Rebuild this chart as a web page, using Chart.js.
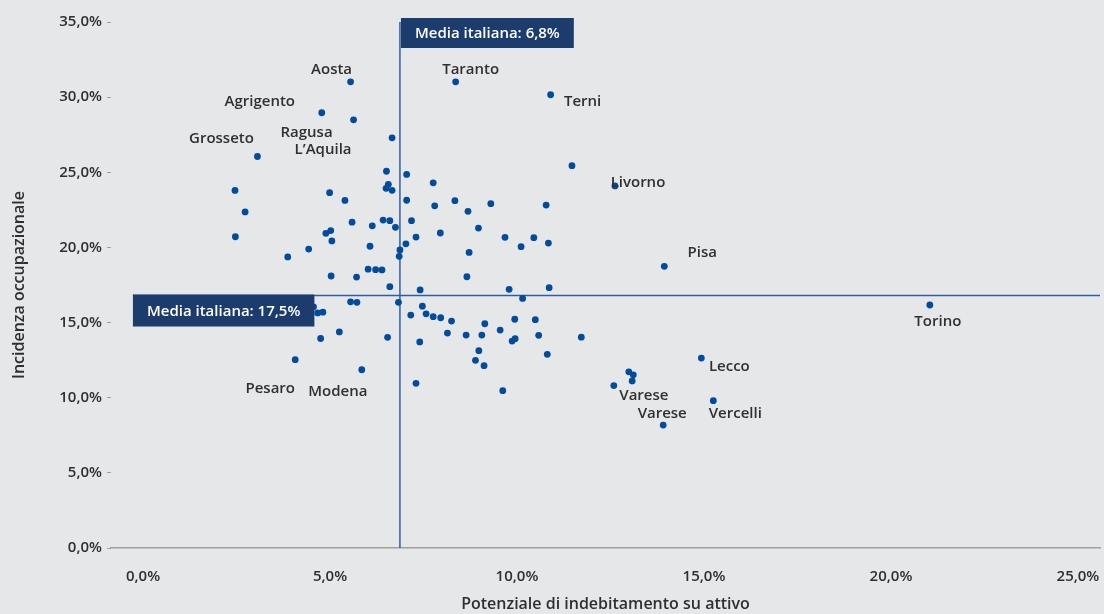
<!DOCTYPE html>
<html lang="it">
<head>
<meta charset="utf-8">
<title>Incidenza occupazionale e potenziale di indebitamento</title>
<script src="https://cdn.jsdelivr.net/npm/chart.js@4/dist/chart.umd.min.js"></script>
<style>
  html, body { margin: 0; padding: 0; background: #e6e7e9; }
  #chart { display: block; }
</style>
</head>
<body>
<canvas id="chart" width="1104" height="614"></canvas>
<script>
// Province con etichetta -------------------------------------------------------
const namedCities = ["Aosta", "Agrigento", "Ragusa", "L’Aquila", "Grosseto", "Taranto", "Terni",
  "Livorno", "Pisa", "Torino", "Lecco", "Vercelli", "Varese", "Varese", "Pesaro", "Modena"];
const namedX = [5.55, 4.78, 5.63, 6.66, 3.06, 8.36, 10.90, 12.62, 13.94, 21.04, 14.93, 15.25, 12.59, 13.91, 4.07, 5.85];
const namedY = [31.02, 28.96, 28.49, 27.29, 26.05, 31.02, 30.16, 24.09, 18.74, 16.17, 12.64, 9.80, 10.81, 8.18, 12.53, 11.86];

// Altre province ----------------------------------------------------------------
const otherX = [6.51, 7.05, 7.76, 11.47, 6.56, 6.50, 6.66, 2.46, 4.99, 5.40, 7.05, 7.80, 8.34, 9.30, 10.78,
  2.73, 8.69, 6.42, 6.60, 7.18, 5.59, 6.13, 6.75, 8.97, 7.95, 2.47, 4.89, 5.02, 5.05, 7.30,
  9.68, 10.45, 10.84, 7.03, 6.07, 10.11, 6.87, 6.85, 4.43, 8.72, 3.87, 6.02, 6.22, 6.39, 5.03,
  5.71, 8.66, 6.60, 7.41, 9.79, 10.86, 10.15, 5.55, 5.72, 6.83, 7.47, 4.56, 4.67, 4.81, 7.16,
  7.57, 7.76, 7.96, 8.25, 9.14, 9.94, 10.49, 5.25, 4.75, 6.54, 7.40, 8.14, 8.64, 9.06, 9.55,
  10.58, 11.72, 9.87, 9.95, 8.98, 8.89, 9.12, 10.81, 12.99, 13.11, 13.08, 7.30, 9.62];
const otherY = [25.07, 24.86, 24.30, 25.44, 24.20, 23.93, 23.80, 23.79, 23.64, 23.13, 23.14, 22.77, 23.11, 22.91, 22.82,
  22.36, 22.40, 21.82, 21.78, 21.78, 21.68, 21.44, 21.34, 21.29, 20.96, 20.71, 20.94, 21.12, 20.43, 20.69,
  20.67, 20.65, 20.29, 20.24, 20.08, 20.05, 19.83, 19.41, 19.89, 19.67, 19.37, 18.55, 18.52, 18.50, 18.10,
  18.03, 18.05, 17.39, 17.17, 17.21, 17.32, 16.61, 16.38, 16.35, 16.35, 16.09, 16.05, 15.64, 15.69, 15.50,
  15.58, 15.39, 15.32, 15.10, 14.92, 15.22, 15.19, 14.38, 13.94, 14.02, 13.71, 14.30, 14.17, 14.17, 14.50,
  14.15, 14.03, 13.77, 13.93, 13.13, 12.49, 12.13, 12.89, 11.72, 11.52, 11.12, 10.96, 10.47];

// Medie italiane ----------------------------------------------------------------
const meanX = 6.87;
const meanY = 16.8;
const meanXLabel = "Media italiana: 6,8%";
const meanYLabel = "Media italiana: 17,5%";

// Assi ----------------------------------------------------------------------------
const xTicks = [0, 5, 10, 15, 20, 25];
const yTicks = [0, 5, 10, 15, 20, 25, 30, 35];
const xTitle = "Potenziale di indebitamento su attivo";
const yTitle = "Incidenza occupazionale";
const X_MIN = -0.856;
const X_MAX = 25.59;

// posizione delle etichette rispetto al punto (px)
const labelOffsets = [[-19, -12], [-62, -11], [-47, 13], [-69, 12], [-36, -18], [15, -12], [32, 7],
  [23, -3], [38, -14], [8, 17], [28, 9], [22, 13], [30, 10], [-1, -11], [-25, 29], [-24, 22]];

const FONT = '"Open Sans", "Noto Sans", sans-serif';
const DOT = "#034c9c";
const LINE = "#2c5fa2";
const BOX = "#1c3c6e";
const TEXT = "#2f2f2f";
const pct = (v) => v.toFixed(1).replace(".", ",") + "%";

const annotations = {
  id: "annotations",
  afterDatasetsDraw(chart) {
    const { ctx, scales: { x, y }, chartArea } = chart;
    ctx.save();
    // nomi delle province
    ctx.font = "600 15px " + FONT;
    ctx.fillStyle = "#303030";
    ctx.textAlign = "center";
    ctx.textBaseline = "middle";
    chart.getDatasetMeta(0).data.forEach((pt, i) => {
      const [dx, dy] = labelOffsets[i];
      ctx.fillText(namedCities[i], pt.x + dx, pt.y + dy);
    });
    // riquadri delle medie
    const box = (text, left, top, h) => {
      const w = ctx.measureText(text).width + 28;
      ctx.fillStyle = BOX;
      ctx.fillRect(left, top, w, h);
      ctx.fillStyle = "#ffffff";
      ctx.fillText(text, left + w / 2, top + h / 2 + 1);
    };
    box(meanXLabel, x.getPixelForValue(meanX) + 1, chartArea.top - 4, 30);
    box(meanYLabel, x.getPixelForValue(-0.27), y.getPixelForValue(meanY) - 1, 32);
    ctx.restore();
  }
};

new Chart(document.getElementById("chart"), {
  type: "scatter",
  data: {
    datasets: [
      {
        label: "Province con etichetta",
        data: namedX.map((v, i) => ({ x: v, y: namedY[i] })),
        backgroundColor: DOT,
        borderWidth: 0,
        pointRadius: 3.4,
        order: 0,
      },
      {
        label: "Province",
        data: otherX.map((v, i) => ({ x: v, y: otherY[i] })),
        backgroundColor: DOT,
        borderWidth: 0,
        pointRadius: 3.4,
        order: 0,
      },
      {
        type: "line",
        label: "Media x",
        data: [{ x: meanX, y: 0 }, { x: meanX, y: 35 }],
        borderColor: LINE,
        borderWidth: 1.5,
        pointRadius: 0,
        order: 2,
      },
      {
        type: "line",
        label: "Media y",
        data: [{ x: -0.27, y: meanY }, { x: X_MAX, y: meanY }],
        borderColor: LINE,
        borderWidth: 1.5,
        pointRadius: 0,
        order: 2,
      },
    ],
  },
  options: {
    responsive: false,
    animation: false,
    layout: { padding: { top: 22, right: 0, left: 0, bottom: 0 } },
    plugins: {
      legend: { display: false },
      tooltip: { enabled: false },
    },
    scales: {
      x: {
        type: "linear",
        min: X_MIN,
        max: X_MAX,
        afterBuildTicks: (s) => { s.ticks = xTicks.map((v) => ({ value: v })); },
        afterFit: (s) => { s.height = 66; s.paddingLeft = 0; s.paddingRight = 0; },
        grid: { drawOnChartArea: false, drawTicks: false },
        border: { color: "#a0a0a0", width: 1.5 },
        ticks: {
          padding: 20,
          color: TEXT,
          font: { family: FONT, size: 15, weight: "600" },
          callback: (v) => pct(v),
        },
        title: {
          display: true,
          text: xTitle,
          color: TEXT,
          font: { family: FONT, size: 16, weight: "600" },
          padding: { top: 0, bottom: 0 },
        },
      },
      y: {
        min: 0,
        max: 35,
        afterBuildTicks: (s) => { s.ticks = yTicks.map((v) => ({ value: v })); },
        afterFit: (s) => { s.width = 111; },
        grid: { drawOnChartArea: false, drawTicks: true, tickLength: 4, color: "#a0a0a0" },
        border: { display: false },
        ticks: {
          padding: 5,
          color: TEXT,
          font: { family: FONT, size: 15, weight: "600" },
          callback: (v) => pct(v),
        },
        title: {
          display: true,
          text: yTitle,
          color: TEXT,
          font: { family: FONT, size: 16, weight: "600" },
          padding: { top: 10, bottom: 0 },
        },
      },
    },
  },
  plugins: [annotations],
});
</script>
</body>
</html>
